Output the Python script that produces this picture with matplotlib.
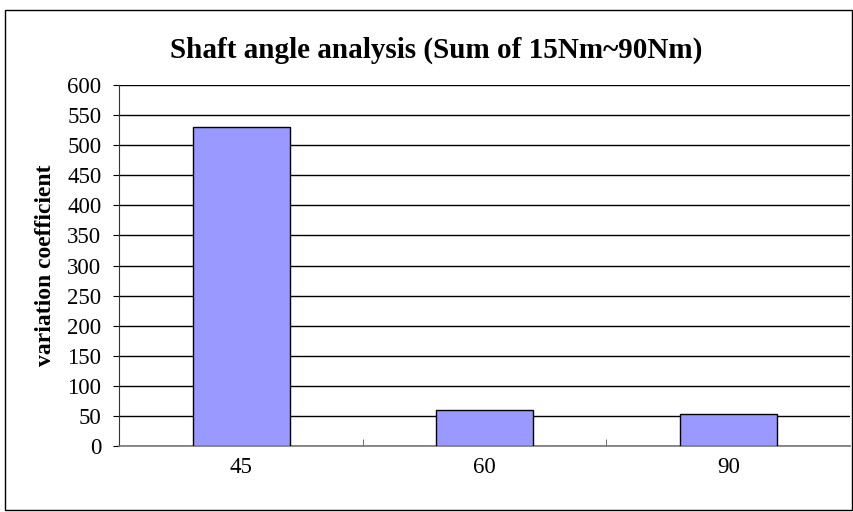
import matplotlib
matplotlib.use("Agg")
import matplotlib.pyplot as plt
from matplotlib.patches import Rectangle

categories = ["45", "60", "90"]
values = [531, 59, 52]
yticks = list(range(0, 601, 50))

plt.rcParams['font.family'] = ['Liberation Serif', 'DejaVu Serif']

fig = plt.figure(figsize=(8.54, 5.12), dpi=100)
W, H = 854, 512
ax = fig.add_axes([119.5 / W, 1 - 445.7 / H, (850 - 119.5) / W, (445.7 - 85.3) / H])

x = list(range(len(categories)))
ax.bar(x, values, width=0.4, color="#9999ff", edgecolor="black", linewidth=1.0, zorder=3)
ax.set_xlim(-0.5, len(categories) - 0.5)
ax.set_ylim(0, 600)
ax.set_yticks(yticks)
ax.set_yticklabels([str(v) for v in yticks], fontsize=16.5)
ax.set_xticks(x)
ax.set_xticklabels(categories, fontsize=16.5)
ax.tick_params(axis='x', length=0, pad=8)
ax.tick_params(axis='y', length=4, direction='out', pad=9)
ax.set_xticks([0.5, 1.5], minor=True)
ax.tick_params(axis='x', which='minor', length=5, direction='in', color='#555555')
ax.grid(axis='y', color='black', linewidth=1.0, zorder=0)
ax.set_axisbelow(True)
for s in ['top', 'right']:
    ax.spines[s].set_visible(False)
ax.spines['left'].set_color('#333333')
ax.spines['bottom'].set_color('#777777')
ax.spines['bottom'].set_linewidth(1.2)
ax.set_ylabel("variation coefficient", fontsize=17, fontweight='bold', labelpad=8)

fig.text(436 / W, 1 - 50 / H, "Shaft angle analysis (Sum of 15Nm~90Nm)",
         ha='center', va='center', fontsize=21, fontweight='bold')

fig.patches.append(Rectangle((5 / W, 1 - 510 / H), (852 - 5) / W, (510 - 10) / H,
                             transform=fig.transFigure, fill=False,
                             edgecolor='black', linewidth=1.0))

fig.savefig("out.png", dpi=100)
